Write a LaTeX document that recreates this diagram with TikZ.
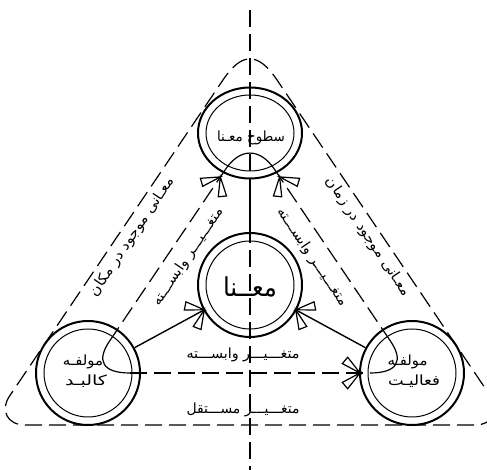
\documentclass[tikz,border=0pt]{standalone}
\usepackage{graphicx}
\usepackage{fontspec}
\newfontfamily\fa[Script=Arabic]{DejaVu Sans}
\TeXXeTstate=1
\usetikzlibrary{shapes.geometric,calc}
\newcommand\wings[2]{%
  \draw[wing] (#1) -- ([shift={(#2+152:20pt)}]#1) -- ([shift={(#2+128:20pt)}]#1) -- cycle
    (#1) -- ([shift={(#2+208:20pt)}]#1) -- ([shift={(#2+232:20pt)}]#1) -- cycle;}
\newcommand\fw[2]{\resizebox{#1}{\height}{#2}}
\begin{document}
\begin{tikzpicture}[x=1pt,y=1pt,
  dsh/.style={line width=1.2pt, dash pattern=on 17pt off 7pt},
  ring/.style={circle, draw, line width=2pt, minimum size=104pt, inner sep=0pt},
  inring/.style={line width=1pt},
  conn/.style={line width=1.4pt},
  corner/.style={line width=1.2pt},
  wing/.style={line width=1.2pt, line join=miter},
  lab/.style={font=\fa\fontsize{14}{16}\selectfont, inner sep=0pt},
  biglab/.style={font=\fa\fontsize{26}{28}\selectfont, inner sep=0pt},
]
\useasboundingbox (0,0) rectangle (487,470);
\fill[white] (0,0) rectangle (487,470);

% outer dashed rounded triangle
\draw[dsh] (25,45) -- (475,45) .. controls (492.5,45) and (500.2,59.5) .. (490.4,74)
  -- (276.9,390.2) .. controls (258.1,418.1) and (241.9,418.1) .. (223.1,390.2)
  -- (9.6,74) .. controls (-0.2,59.5) and (7.5,45) .. (25,45) -- cycle;

% vertical axis
\draw[dsh] (250,460) -- (250,0);

% circles
\node[ellipse, draw, line width=2pt, minimum width=104pt, minimum height=91pt, inner sep=0pt] (top) at (250,337) {};
\node[ring] (mid) at (250,185) {};
\node[ring] (bl) at (88,97) {};
\node[ring] (br) at (412,97) {};
\draw[inring] (top.center) ellipse [x radius=44pt, y radius=38pt];
\draw[inring] (mid.center) circle [radius=44pt];
\draw[inring] (bl.center) circle [radius=44pt];
\draw[inring] (br.center) circle [radius=44pt];

% inner dashed triangle through the centres
\coordinate (P1) at (225.4,300.5);
\coordinate (P2) at (274.6,300.5);
\coordinate (Q1) at (109.3,128.5);
\coordinate (Q2) at (130,97);
\coordinate (R1) at (390.7,128.5);
\coordinate (R2) at (370,97);
\draw[dsh] (Q1) -- (P1);
\draw[dsh] (R1) -- (P2);
\draw[dsh] (Q2) -- (R2);
\draw[corner] (P1) .. controls (240.2,322.4) and (259.8,322.4) .. (P2);
\draw[corner] (Q1) .. controls (96.5,109.6) and (102,97) .. (Q2);
\draw[corner] (R1) .. controls (403.5,109.6) and (398,97) .. (R2);

% solid connectors
\draw[conn] (top) -- (mid);
\draw[conn] (bl) -- (mid);
\draw[conn] (br) -- (mid);

% arrow wings
\coordinate (tA) at ($(mid)!52pt!(bl)$);
\coordinate (tB) at ($(mid)!52pt!(br)$);
\coordinate (tC) at ($(br)!52pt!(bl)$);
\coordinate (tD) at ($(top)!53pt!(bl)$);
\coordinate (tE) at ($(top)!53pt!(br)$);
\wings{tA}{28.5}
\wings{tB}{151.5}
\wings{tC}{0}
\wings{tD}{56}
\wings{tE}{124}

% labels
\node[lab] at (251,332) {\fw{68pt}{\beginR سطوح معـنا\endR}};
\node[biglab] at (250,183) {\fw{54pt}{\beginR معــنا\endR}};
\node[lab] at (83,108) {\fw{40pt}{\beginR مولفـه\endR}};
\node[lab] at (86,89) {\fw{42pt}{\beginR کالبـد\endR}};
\node[lab] at (407.5,108) {\fw{40pt}{\beginR مولفـه\endR}};
\node[lab] at (414,89) {\fw{52pt}{\beginR فعالیـت\endR}};
\node[lab] at (243,115) {\fw{113pt}{\beginR متغـــیـــر وابســـته\endR}};
\node[lab] at (243,60) {\fw{113pt}{\beginR متغـــیـــر مســـتقل\endR}};
\node[lab, rotate=56] at (188,213) {\fw{115pt}{\beginR متغـــیـــر وابســـته\endR}};
\node[lab, rotate=-56] at (312,213) {\fw{115pt}{\beginR متغـــیـــر وابســـته\endR}};
\node[lab, rotate=56] at (132,233) {\fw{140pt}{\beginR معـانی موجود در مکان\endR}};
\node[lab, rotate=-56] at (368,233) {\fw{140pt}{\beginR معـانی موجود در زمان\endR}};
\end{tikzpicture}
\end{document}
